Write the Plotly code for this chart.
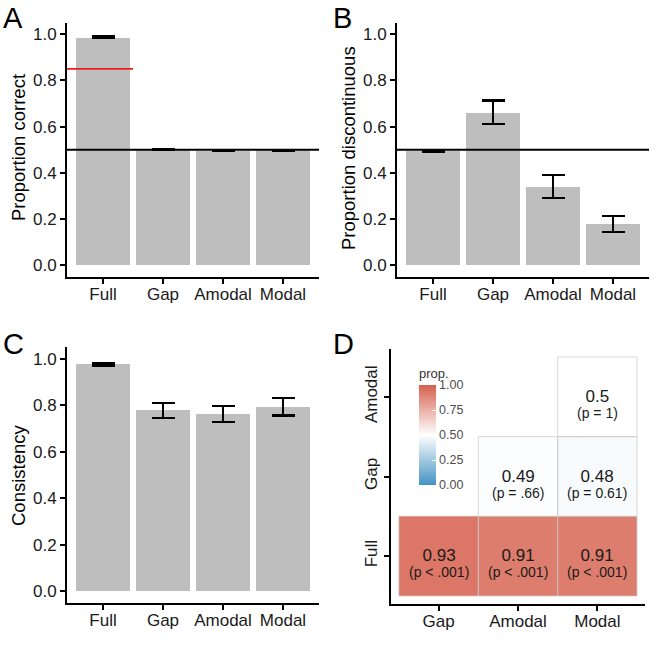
import plotly.graph_objects as go

# ---------------- data ----------------
conditions = ["Full", "Gap", "Amodal", "Modal"]

A_mean = [0.987, 0.502, 0.497, 0.498]
A_err = [0.003, 0.002, 0.003, 0.002]
A_chance = 0.5
A_threshold = 0.85

B_mean = [0.495, 0.662, 0.340, 0.178]
B_err = [0.003, 0.051, 0.050, 0.036]
B_chance = 0.5

C_mean = [0.976, 0.778, 0.761, 0.793]
C_err = [0.005, 0.033, 0.034, 0.037]

D_cols = ["Gap", "Amodal", "Modal"]
D_rows = ["Full", "Gap", "Amodal"]
D_prop = [
    [0.93, 0.91, 0.91],
    [None, 0.49, 0.48],
    [None, None, 0.50],
]
D_val_txt = [
    ["0.93", "0.91", "0.91"],
    [None, "0.49", "0.48"],
    [None, None, "0.5"],
]
D_p_txt = [
    ["(p < .001)", "(p < .001)", "(p < .001)"],
    [None, "(p = .66)", "(p = 0.61)"],
    [None, None, "(p = 1)"],
]

yticks = [0, 0.2, 0.4, 0.6, 0.8, 1.0]
cb_ticks = [0, 0.25, 0.5, 0.75, 1.0]

# ---------------- style ----------------
FONT = "Liberation Sans, Arial, sans-serif"
W, H = 660, 662
TICK_FS = 17
TITLE_FS = 18.5
BAR_COLOR = "#BEBEBE"
TXT = "#1a1a1a"


def px_x(p):
    return p / W


def px_y(p):
    return 1 - p / H


fig = go.Figure()

panels = [
    ("x", "y", A_mean, A_err),
    ("x2", "y2", B_mean, B_err),
    ("x3", "y3", C_mean, C_err),
]
for xa, ya, m, e in panels:
    fig.add_trace(go.Bar(
        x=conditions, y=m, width=0.9, xaxis=xa, yaxis=ya,
        marker=dict(color=BAR_COLOR, line=dict(width=0)),
        error_y=dict(type="data", array=e, symmetric=True, color="black",
                     thickness=2.2, width=11.5),
        showlegend=False, hoverinfo="skip",
    ))

# heatmap
fig.add_trace(go.Heatmap(
    x=D_cols, y=D_rows, z=D_prop, xaxis="x4", yaxis="y4",
    zmin=0, zmax=1,
    colorscale=[[0, "#4393C3"], [0.5, "#FFFFFF"], [1, "#D6604D"]],
    hoverinfo="skip",
    colorbar=dict(
        x=px_x(419), xanchor="left", y=px_y(365), yanchor="top",
        thickness=17, thicknessmode="pixels", len=120, lenmode="pixels",
        outlinewidth=0, tickvals=cb_ticks,
        ticktext=[f"{v:.2f}" for v in cb_ticks],
        ticks="inside", ticklen=4, tickcolor="white", tickwidth=1,
        tickfont=dict(family=FONT, size=12.5, color="#4d4d4d"),
        title=dict(text="prop.", side="top",
                   font=dict(family=FONT, size=13, color="#333333")),
        xpad=0, ypad=0,
    ),
))

shapes = []
annotations = []

# tile borders and labels
for r, row in enumerate(D_rows):
    for c, col in enumerate(D_cols):
        if D_prop[r][c] is None:
            continue
        shapes.append(dict(type="rect", xref="x4", yref="y4",
                           x0=c - 0.5, x1=c + 0.5, y0=r - 0.5, y1=r + 0.5,
                           line=dict(color="rgba(200,200,200,0.7)", width=1),
                           layer="above"))
        label = (f"<span style='font-size:17px'>{D_val_txt[r][c]}</span><br>"
                 f"<span style='font-size:14px'>{D_p_txt[r][c]}</span>")
        annotations.append(dict(xref="x4", yref="y4", x=c, y=r,
                                text=label, showarrow=False,
                                yshift=-7, align="center",
                                font=dict(family=FONT, size=12.5, color=TXT)))

# reference lines
shapes.append(dict(type="line", xref="x domain", yref="y", x0=0, x1=1,
                   y0=A_chance, y1=A_chance, line=dict(color="black", width=2)))
shapes.append(dict(type="line", xref="x", yref="y", x0=-0.6, x1=0.5,
                   y0=A_threshold, y1=A_threshold,
                   line=dict(color="#EE1C1C", width=1.8)))
shapes.append(dict(type="line", xref="x2 domain", yref="y2", x0=0, x1=1,
                   y0=B_chance, y1=B_chance, line=dict(color="black", width=2)))

# panel letters
for letter, lx, ly in [("A", 1, 18), ("B", 331, 18), ("C", 1, 344), ("D", 331, 344)]:
    annotations.append(dict(xref="paper", yref="paper", x=px_x(lx), y=px_y(ly),
                            xanchor="left", yanchor="middle", text=letter,
                            showarrow=False,
                            font=dict(family=FONT, size=29, color="black")))

# y-axis titles
for title, tx, ty in [("Proportion correct", 18, 148),
                      ("Proportion discontinuous", 348, 148),
                      ("Consistency", 18, 475)]:
    annotations.append(dict(xref="paper", yref="paper", x=px_x(tx), y=px_y(ty),
                            xanchor="center", yanchor="middle", text=title,
                            textangle=-90, showarrow=False,
                            font=dict(family=FONT, size=TITLE_FS, color="black")))


def xax(dom, rng, anchor):
    return dict(domain=dom, range=rng, anchor=anchor, type="category",
                showline=True, linecolor="black", linewidth=2,
                ticks="outside", ticklen=5, tickwidth=1.5, tickcolor="black",
                ticklabelstandoff=-4,
                showgrid=False, zeroline=False, fixedrange=True,
                tickfont=dict(family=FONT, size=TICK_FS, color=TXT))


def yax(dom, anchor):
    return dict(domain=dom, range=[-0.05, 1.05], anchor=anchor,
                showline=True, linecolor="black", linewidth=2,
                ticks="outside", ticklen=5, tickwidth=1.5, tickcolor="black",
                tickvals=yticks, tickformat=".1f",
                showgrid=False, zeroline=False, fixedrange=True,
                tickfont=dict(family=FONT, size=TICK_FS, color=TXT))


top_dom = [px_y(276.7), px_y(22.7)]
c_dom = [px_y(602.7), px_y(347.1)]
d_dom = [px_y(604), px_y(349)]

yax4 = dict(domain=d_dom, range=[-0.6, 2.6], anchor="x4", type="category",
            showline=True, linecolor="black", linewidth=2,
            ticks="outside", ticklen=5, tickwidth=1.5, tickcolor="black",
            tickangle=-90, showgrid=False, zeroline=False, fixedrange=True,
            tickfont=dict(family=FONT, size=TICK_FS, color=TXT))

fig.update_layout(
    width=W, height=H,
    margin=dict(l=0, r=0, t=0, b=0),
    paper_bgcolor="white", plot_bgcolor="white",
    showlegend=False, bargap=0,
    font=dict(family=FONT, color=TXT),
    xaxis=xax([px_x(67), px_x(319)], [-0.6, 3.6], "y"),
    yaxis=yax(top_dom, "x"),
    xaxis2=xax([px_x(397), px_x(649)], [-0.6, 3.6], "y2"),
    yaxis2=yax(top_dom, "x2"),
    xaxis3=xax([px_x(67), px_x(319)], [-0.6, 3.6], "y3"),
    yaxis3=yax(c_dom, "x3"),
    xaxis4=xax([px_x(391), px_x(645)], [-0.6, 2.6], "y4"),
    yaxis4=yax4,
    shapes=shapes,
    annotations=annotations,
)

fig.write_html("out.html")
